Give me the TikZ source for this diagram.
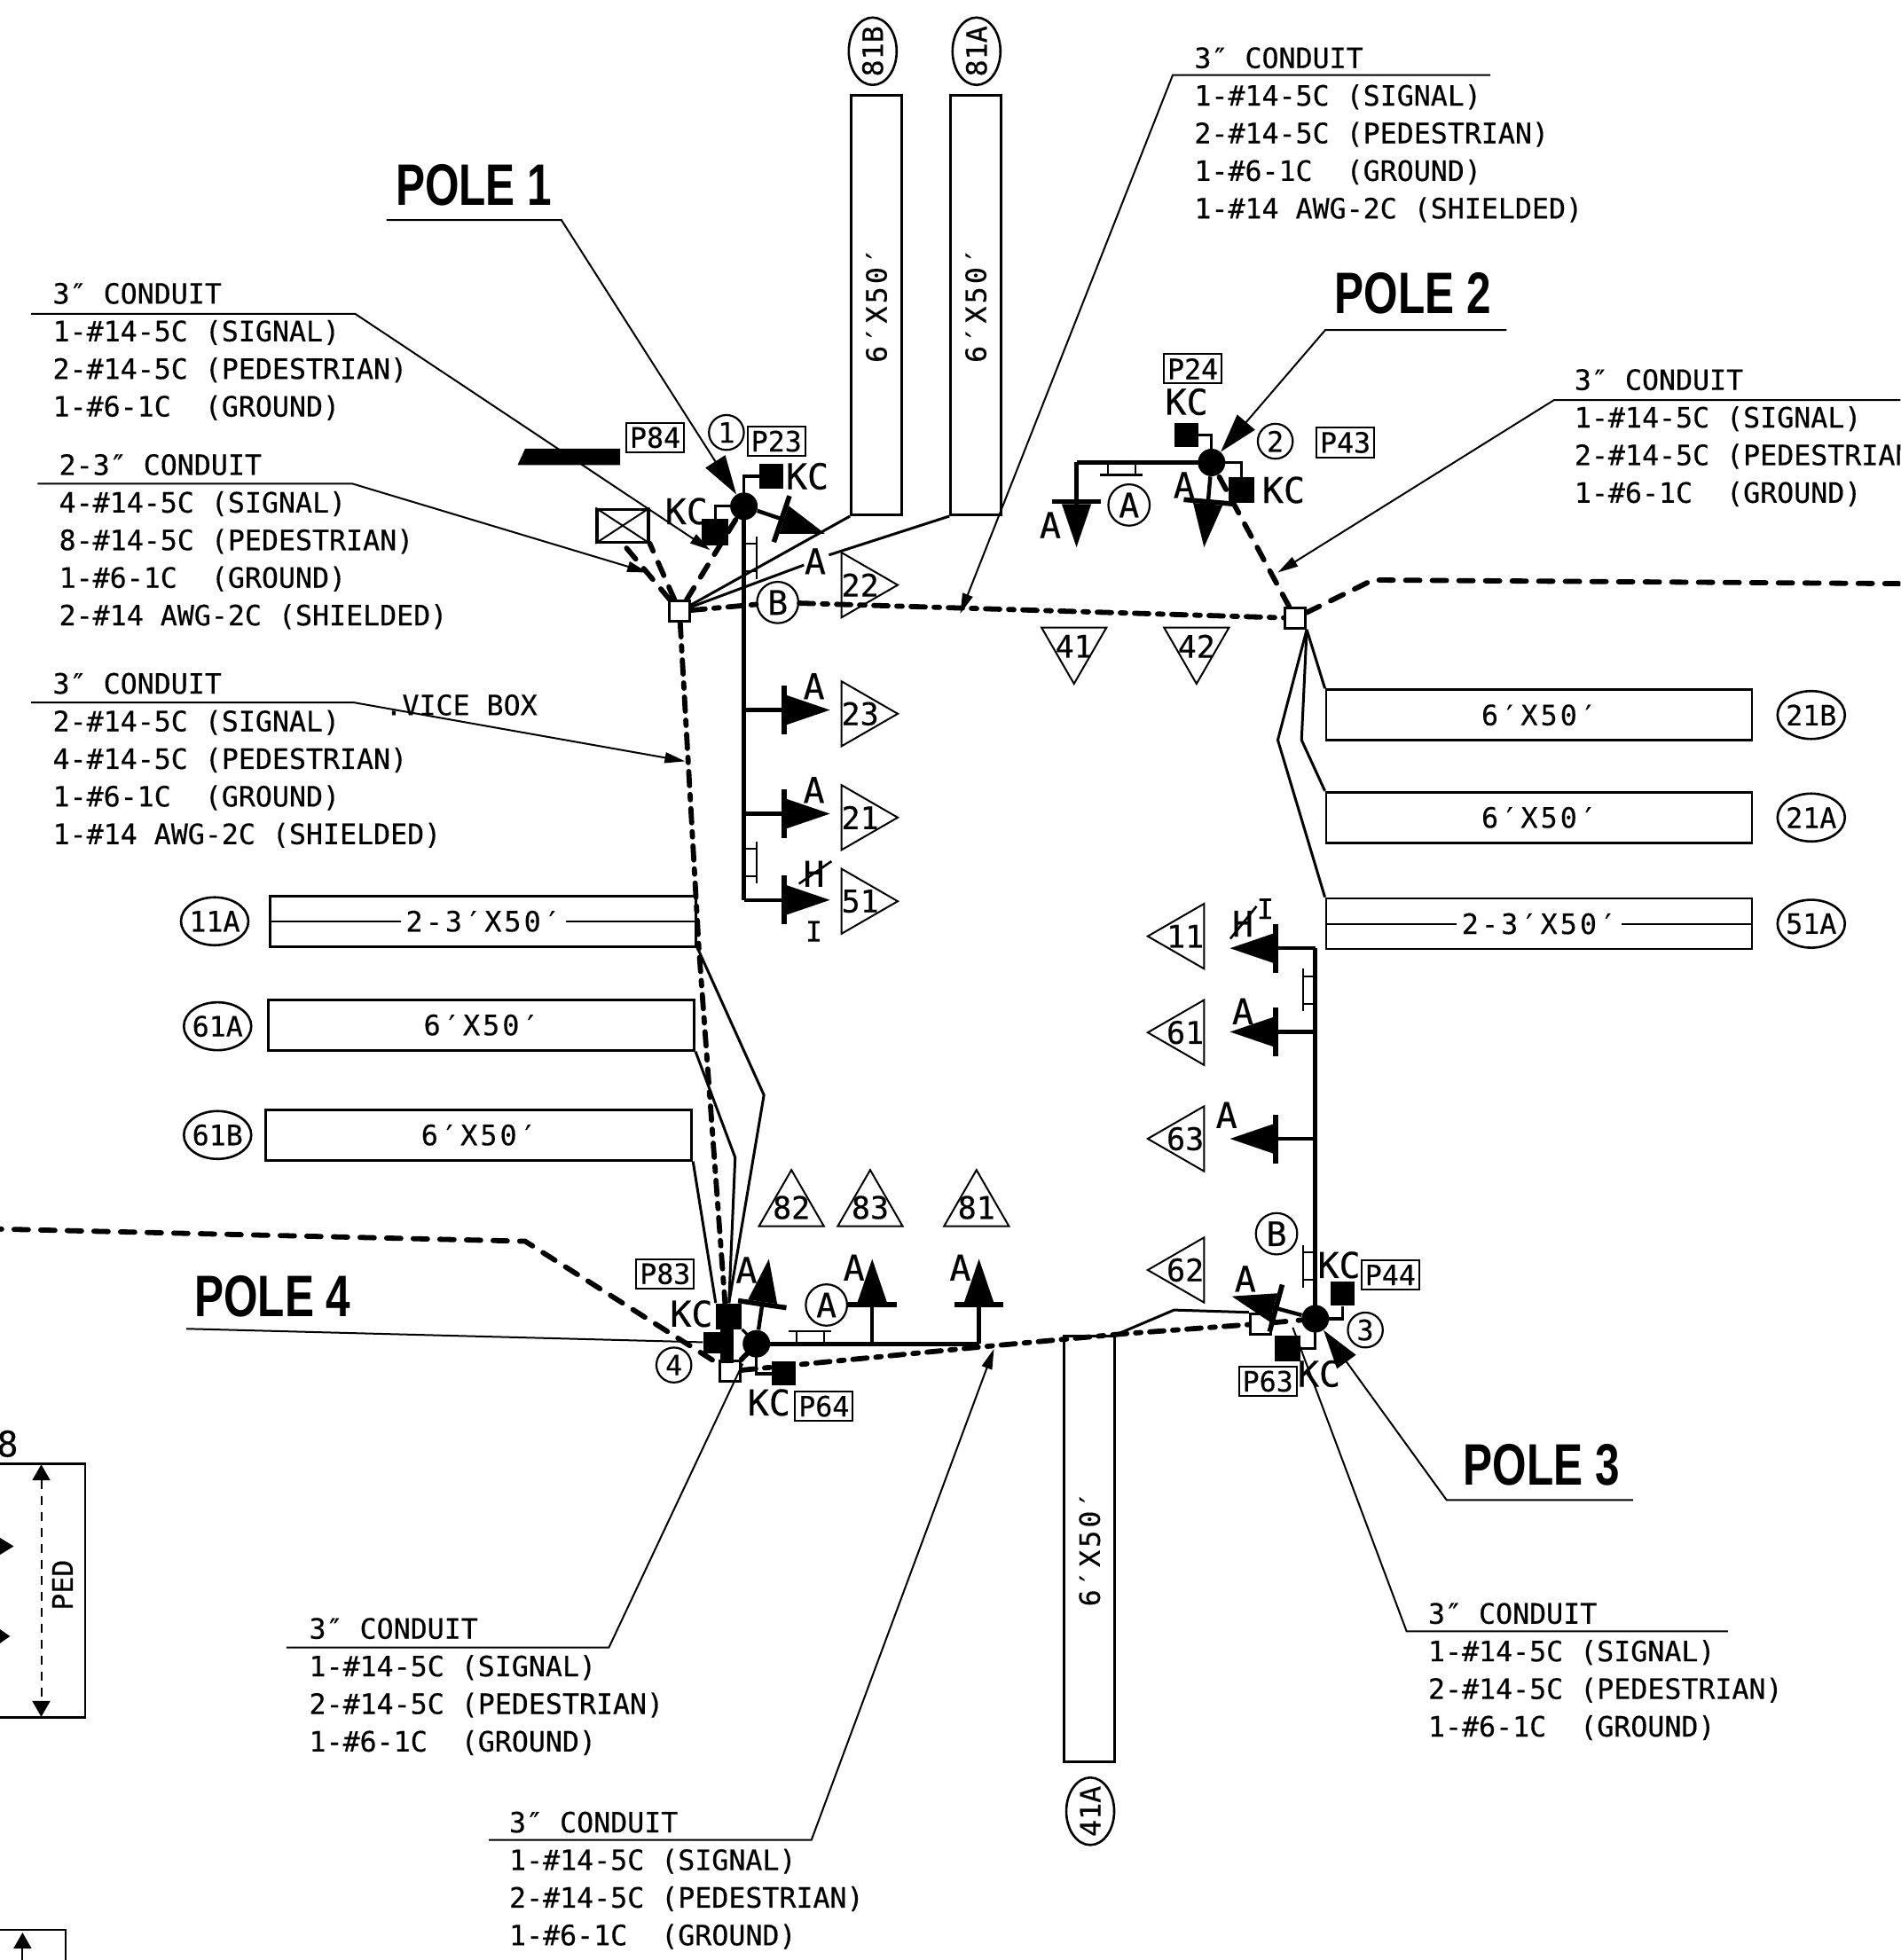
\documentclass[tikz,border=0pt]{standalone}
\usepackage{fontspec}
\setmainfont[FakeBold=0.35]{DejaVu Sans Mono}
\newfontfamily\polefont{Liberation Sans}
\newfontfamily\spacedfont[LetterSpace=10,FakeBold=0.35]{DejaVu Sans Mono}
\usetikzlibrary{positioning, arrows.meta, shapes.geometric}

\begin{document}
\begin{tikzpicture}[
						x=0.7046pt, y=-0.7046pt,
						plain/.style={font=\fontsize{15.8}{21.2}\selectfont, inner sep=0pt},
						lettertext/.style={font=\fontsize{20}{20}\selectfont, inner sep=0pt},
						calltext/.style={plain, align=left, anchor=north west},
						poletitle/.style={font=\polefont\bfseries\fontsize{33}{33}\selectfont, inner sep=0pt, xscale=.75, transform shape},
						sigbox/.style={plain, rectangle, draw, line width=1.4pt, font=\spacedfont\fontsize{15.8}{21.2}\selectfont, minimum width=240pt, minimum height=28.5pt},
						tagbox/.style={plain, rectangle, draw, line width=1pt, minimum width=32.4pt, minimum height=16.6pt},
						tagoval/.style={plain, ellipse, draw, line width=1.3pt, inner sep=-1pt, minimum width=38pt, minimum height=27pt},
						tri/.style={font=\fontsize{17.5}{17.5}\selectfont, regular polygon, regular polygon sides=3, draw, line width=1pt, inner sep=-4pt, minimum size=42.3pt},
						refcircle/.style={plain, circle, draw, fill=white, line width=1.1pt, minimum size=19.7pt},
						lettercircle/.style={font=\fontsize{19}{19}\selectfont, inner sep=0pt, circle, draw, fill=white, line width=1.1pt, minimum size=23.3pt},
						poledot/.style={circle, fill=black, inner sep=0pt, minimum size=15.5pt},
						kcbox/.style={rectangle, fill=black, inner sep=0pt, minimum size=13.5pt},
						jbox/.style={rectangle, draw, fill=white, line width=1.4pt, inner sep=0pt, minimum size=11.5pt},
						mainline/.style={line width=2.6pt},
						feeder/.style={line width=1.6pt},
						cable/.style={line width=1.5pt},
						conduit/.style={line width=2.9pt, line cap=round, dash pattern=on 8pt off 5pt on 3pt off 5pt},
						buried/.style={line width=2.9pt, line cap=round, dash pattern=on 8pt off 7pt},
						sighead/.style={line width=2.2pt, -{Bar[width=27.5pt,line width=2.8pt]Triangle[length=24.5pt,width=16pt]}},
						leader/.style={line width=1pt, -{Triangle[length=11.5pt,width=6pt]}},
						bareleader/.style={line width=1pt},
						poleleader/.style={line width=1pt, -{Triangle[length=22pt,width=13pt]}},
						strike/.style={line width=1.3pt},
						jumper/.pic={\draw[line width=1.1pt] (0,-17) -- (0,17) (0,-11) -- (-10,-11) (0,11) -- (-10,11);}
					]
					\useasboundingbox (0,0) rectangle (1520,1568);
					\clip (0,0) rectangle (1520,1568);
					\node[sigbox, rotate=90, minimum width=236.7pt] (boxeightyb) at (701,244) {6′X50′};
					\node[sigbox, rotate=90, minimum width=236.7pt] (boxeightya) at (780.5,244) {6′X50′};
					\node[sigbox] (boxtwob) at (1231,572) {6′X50′};
					\node[sigbox] (boxtwoa) at (1231,654) {6′X50′};
					\node[sigbox] (boxfive) at (1231,739) {};
					\node[sigbox] (boxeleven) at (386.5,737) {};
					\node[sigbox] (boxsixa) at (385,820) {6′X50′};
					\node[sigbox] (boxsixb) at (383,908) {6′X50′};
					\node[sigbox, rotate=90] (boxforty) at (871.5,1239) {6′X50′};
					\draw[line width=1pt] (boxfive.west) -- (boxfive.east);
					\draw[line width=1pt] (boxeleven.west) -- (boxeleven.east);
					\node[plain, fill=white, inner xsep=3pt, font=\spacedfont\fontsize{15.8}{21.2}\selectfont] (textfive) at (boxfive) {2-3′X50′};
					\node[plain, fill=white, inner xsep=3pt, font=\spacedfont\fontsize{15.8}{21.2}\selectfont] (texteleven) at (boxeleven) {2-3′X50′};

					\node[tagoval, rotate=90] (ovaleightyb) at (698,41) {81B};
					\node[tagoval, rotate=90] (ovaleightya) at (781,41) {81A};
					\node[tagoval] (ovaltwob) [right=13pt of boxtwob] {21B};
					\node[tagoval] (ovaltwoa) [right=13pt of boxtwoa] {21A};
					\node[tagoval] (ovalfive) [right=13pt of boxfive] {51A};
					\node[tagoval] (ovaleleven) [left=11pt of boxeleven] {11A};
					\node[tagoval] (ovalsixa) at (174,821) {61A};
					\node[tagoval] (ovalsixb) at (174,908) {61B};
					\node[tagoval, rotate=90] (ovalforty) at (872,1449) {41A};

					\node[tri, shape border rotate=-90] (tritwotwo) at (688,468) {22};
					\node[tri, shape border rotate=-90] (tritwothree) at (688,571) {23};
					\node[tri, shape border rotate=-90] (tritwoone) at (688,654) {21};
					\node[tri, shape border rotate=-90] (trifiveone) at (688,721) {51};
					\node[tri, shape border rotate=180] (trifourone) at (859,517) {41};
					\node[tri, shape border rotate=180] (trifourtwo) at (957,517) {42};
					\node[tri, shape border rotate=90] (trioneone) at (948,749) {11};
					\node[tri, shape border rotate=90] (trisixone) at (948,826) {61};
					\node[tri, shape border rotate=90] (trisixthree) at (948,911) {63};
					\node[tri, shape border rotate=90] (trisixtwo) at (948,1016) {62};
					\node[tri] (trieighttwo) at (633,966) {82};
					\node[tri] (trieightthree) at (696,966) {83};
					\node[tri] (trieightone) at (781,966) {81};

					\node[calltext] (condnorth) at (955,37.5) {3″ CONDUIT\\1-\#14-5C (SIGNAL)\\2-\#14-5C (PEDESTRIAN)\\1-\#6-1C\ \ (GROUND)\\1-\#14 AWG-2C (SHIELDED)};
					\node[calltext] (condpole) at (42,226) {3″ CONDUIT\\1-\#14-5C (SIGNAL)\\2-\#14-5C (PEDESTRIAN)\\1-\#6-1C\ \ (GROUND)};
					\node[calltext] (condtwin) at (47,363) {2-3″ CONDUIT\\4-\#14-5C (SIGNAL)\\8-\#14-5C (PEDESTRIAN)\\1-\#6-1C\ \ (GROUND)\\2-\#14 AWG-2C (SHIELDED)};
					\node[calltext] (condservice) at (42,538) {3″ CONDUIT\\2-\#14-5C (SIGNAL)\\4-\#14-5C (PEDESTRIAN)\\1-\#6-1C\ \ (GROUND)\\1-\#14 AWG-2C (SHIELDED)};
					\node[calltext] (condeast) at (1259,295) {3″ CONDUIT\\1-\#14-5C (SIGNAL)\\2-\#14-5C (PEDESTRIAN)\\1-\#6-1C\ \ (GROUND)};
					\node[calltext] (condwest) at (247,1294) {3″ CONDUIT\\1-\#14-5C (SIGNAL)\\2-\#14-5C (PEDESTRIAN)\\1-\#6-1C\ \ (GROUND)};
					\node[calltext] (condsouth) at (407,1449) {3″ CONDUIT\\1-\#14-5C (SIGNAL)\\2-\#14-5C (PEDESTRIAN)\\1-\#6-1C\ \ (GROUND)};
					\node[calltext] (condlower) at (1142,1282) {3″ CONDUIT\\1-\#14-5C (SIGNAL)\\2-\#14-5C (PEDESTRIAN)\\1-\#6-1C\ \ (GROUND)};
					\node[plain] (servicetext) at (369,564) {.VICE BOX};

					\node[poletitle] (titleone) at (379,148) {POLE 1};
					\node[poletitle] (titletwo) at (1130,235) {POLE 2};
					\node[poletitle] (titlethree) at (1233,1172) {POLE 3};
					\node[poletitle] (titlefour) at (218,1037) {POLE 4};

					\node[poledot] (poleone) at (595,405) {};
					\node[poledot] (poletwo) at (969,370) {};
					\node[poledot] (polethree) at (1052,1055) {};
					\node[poledot] (polefour) at (605,1075) {};
					\node[jbox] (jbone) at (543.5,489) {};
					\node[jbox] (jbtwo) at (1036,494.5) {};
					\node[jbox] (jbthree) at (1008,1059) {};
					\node[jbox] (jbfour) at (584,1097) {};
					\node[rectangle, draw, line width=1.6pt, minimum width=29pt, minimum height=18.5pt, inner sep=0pt] (crossbox) at (498,420.5) {};
					\draw[line width=1pt] (crossbox.north west) -- (crossbox.south east);
					\draw[line width=1pt] (crossbox.south west) -- (crossbox.north east);
					\fill (414,372) -- (420,359) -- (496,359) -- (496,372) -- cycle;

					\node[kcbox] (kcpa) at (617,381) {};
					\node[kcbox, minimum size=15pt] (kcpb) at (572,426) {};
					\node[kcbox] (kcpc) at (949,348) {};
					\node[kcbox, minimum size=14.5pt] (kcpd) at (993,392) {};
					\node[kcbox] (kcpe) at (1074,1035) {};
					\node[kcbox, minimum size=14.5pt] (kcpf) at (1030,1079) {};
					\node[kcbox] (kcpg) at (627,1099) {};
					\node[kcbox, minimum size=14.5pt] (kcph) at (583,1053) {};
					\node[kcbox, minimum size=12pt] (kcblock) at (571,1074) {};
					\node[kcbox, minimum width=7.7pt, minimum height=32pt] (kcstem) at (581.5,1068) {};

					\node[lettertext] (kctexta) [right=1pt of kcpa] {KC};
					\node[lettertext] (kctextb) at (549,409) {KC};
					\node[lettertext] (kctextc) [above=4pt of kcpc] {KC};
					\node[lettertext] (kctextd) [right=4pt of kcpd] {KC};
					\node[lettertext] (kctexte) at (1071,1012) {KC};
					\node[lettertext] (kctextf) at (1055,1099) {KC};
					\node[lettertext] (kctextg) at (615,1122) {KC};
					\node[lettertext] (kctexth) at (553,1051) {KC};

					\node[tagbox] (tagpeightfour) at (524,350) {P84};
					\node[tagbox] (tagptwothree) at (621,353) {P23};
					\node[tagbox] (tagptwofour) at (954,295) {P24};
					\node[tagbox] (tagpfourthree) at (1076,354) {P43};
					\node[tagbox] (tagpeightthree) at (532,1019) {P83};
					\node[tagbox] (tagpsixfour) at (659,1125) {P64};
					\node[tagbox] (tagpsixthree) at (1014,1105) {P63};
					\node[tagbox] (tagpfourfour) at (1112,1020) {P44};

					\node[refcircle] (numone) at (581,346) {1};
					\node[refcircle] (numtwo) at (1020,353) {2};
					\node[refcircle] (numthree) at (1092,1064) {3};
					\node[refcircle] (numfour) at (539,1092) {4};
					\node[lettercircle] (circleb) at (622,482) {B};
					\node[lettercircle] (circlea) at (903,404) {A};
					\node[lettercircle] (circlec) at (661,1044) {A};
					\node[lettercircle] (circled) at (1021,987) {B};

					\node[lettertext] (letterone) at (652,449) {A};
					\node[lettertext] (lettertwo) at (651,549) {A};
					\node[lettertext] (letterthree) at (651,632) {A};
					\node[lettertext] (hatchone) at (651,699) {H};
					\node[plain] (letteri) at (651,745) {I};
					\node[lettertext] (letterfour) at (840,420) {A};
					\node[lettertext] (letterfive) at (947,388) {A};
					\node[lettertext] (hatchtwo) at (994,739) {H};
					\node[plain] (letterj) at (1012,727) {I};
					\node[lettertext] (lettersix) at (994,809) {A};
					\node[lettertext] (letterseven) at (981,892) {A};
					\node[lettertext] (lettereight) at (996,1023) {A};
					\node[lettertext] (letternine) at (597,1016) {A};
					\node[lettertext] (letterten) at (683,1014) {A};
					\node[lettertext] (lettereleven) at (768,1014) {A};
					\draw[strike] ([shift={(-12,8)}]hatchone.center) -- ([shift={(14,-10)}]hatchone.center);
					\draw[strike] ([shift={(-10,12)}]hatchtwo.center) -- ([shift={(11,-14)}]hatchtwo.center);

					\coordinate (gapnear) at (663,444);
					\coordinate (gapfar) at (643,452);
					\draw[cable] (boxeightyb.north west) -- (jbone);
					\draw[cable] (boxeightya.north west) -- (gapnear);
					\draw[cable] (gapfar) -- (jbone);
					\coordinate (bendtwoa) at (1041,592);
					\coordinate (bendfive) at (1022,592);
					\draw[cable] (jbtwo.south east) -- (boxtwob.north west);
					\draw[cable] (jbtwo.south east) -- (bendtwoa) -- (boxtwoa.north west);
					\draw[cable] (jbtwo.south east) -- (bendfive) -- (boxfive.north west);
					\coordinate (bendeleven) at (611,876);
					\coordinate (bendsixa) at (588,926);
					\draw[cable] (boxeleven.south east) -- (bendeleven) -- (kcph.north);
					\draw[cable] (boxsixa.south east) -- (bendsixa) -- (kcph.north);
					\draw[cable] (boxsixb.south east) -- (kcph.north west);
					\coordinate (bendforty) at (939,1048);
					\draw[cable] (boxforty.south east) -- (bendforty) -- (jbthree.north west);

					\coordinate (bendserviceup) at (559,759);
					\coordinate (bendservicelow) at (578,1017);
					\coordinate (bendsouth) at (790,1077);
					\coordinate (bendsoutheast) at (899,1067);
					\coordinate (eastbend) at (1098,464);
					\coordinate (eastend) at (1530,467);
					\coordinate (westbend) at (420,993);
					\coordinate (westend) at (-10,983);
					\draw[conduit] (jbone) -- (circleb);
					\draw[conduit] (circleb) -- (jbtwo);
					\draw[conduit] (jbone) -- (bendserviceup) -- (bendservicelow) -- (jbfour);
					\draw[conduit] (jbfour) -- (bendsouth) -- (bendsoutheast) -- (jbthree);
					\draw[buried] (jbone) -- (poleone);
					\draw[buried] (jbtwo) -- (poletwo);
					\draw[buried] (jbthree) -- (polethree);
					\draw[buried] (jbfour) -- (polefour);
					\draw[buried] (jbone) -- (crossbox.south);
					\draw[buried] (jbone) -- (crossbox.south east);
					\draw[buried] (jbtwo) -- (eastbend) -- (eastend);
					\draw[buried] (westend) -- (westbend) -- (jbfour);

					\coordinate (cornerone) at (595,720);
					\coordinate (branchtwothree) at (595,568);
					\coordinate (branchtwoone) at (595,651);
					\coordinate (tiptwotwo) at (660,427);
					\coordinate (tiptwothree) at (664,568);
					\coordinate (tiptwoone) at (664,651);
					\coordinate (tipfiveone) at (664,720);
					\draw[mainline] (poleone.center) -- (cornerone);
					\draw[sighead] (poleone) -- (tiptwotwo);
					\draw[sighead] (branchtwothree) -- (tiptwothree);
					\draw[sighead] (branchtwoone) -- (tiptwoone);
					\draw[sighead] (cornerone) -- (tipfiveone);
					\pic at (605,446) {jumper};
					\pic at (605,690) {jumper};

					\coordinate (cornertwo) at (861,370);
					\coordinate (tipfourone) at (861,438);
					\coordinate (tipfourtwo) at (963,438);
					\draw[mainline] (poletwo.center) -- (cornertwo);
					\draw[sighead] (cornertwo) -- (tipfourone);
					\draw[sighead] (poletwo) -- (tipfourtwo);
					\pic[rotate=-90] at (897,380) {jumper};

					\coordinate (cornerthree) at (1052,758.6);
					\coordinate (branchsixone) at (1052,825.5);
					\coordinate (branchsixthree) at (1052,911);
					\coordinate (tiponeone) at (983.6,758.6);
					\coordinate (tipsixone) at (983.6,825.5);
					\coordinate (tipsixthree) at (983.6,911);
					\coordinate (tipsixtwo) at (985,1037);
					\draw[mainline] (polethree.center) -- (cornerthree);
					\draw[sighead] (cornerthree) -- (tiponeone);
					\draw[sighead] (branchsixone) -- (tipsixone);
					\draw[sighead] (branchsixthree) -- (tipsixthree);
					\draw[sighead] (polethree) -- (tipsixtwo);
					\pic[rotate=180] at (1042,792) {jumper};
					\pic[rotate=180] at (1042,1013) {jumper};

					\coordinate (cornerfour) at (783,1075);
					\coordinate (brancheightthree) at (697.6,1075);
					\coordinate (tipeighttwo) at (615,1007);
					\coordinate (tipeightthree) at (697.6,1007);
					\coordinate (tipeightone) at (783,1007);
					\draw[mainline] (polefour.center) -- (cornerfour);
					\draw[sighead] (polefour) -- (tipeighttwo);
					\draw[sighead] (brancheightthree) -- (tipeightthree);
					\draw[sighead] (cornerfour) -- (tipeightone);
					\pic[rotate=90] at (648,1065) {jumper};

					\draw[feeder] (poleone.center) |- (kcpa.west);
					\draw[feeder] (poleone.center) -| (kcpb.north);
					\draw[feeder] (poletwo.center) |- (kcpc.east);
					\draw[feeder] (poletwo.center) -| (kcpd.north);
					\draw[feeder] (polethree.center) -| (kcpe.south);
					\draw[feeder] (polethree.center) |- (kcpf.east);
					\draw[feeder] (polefour.center) |- (kcpg.west);
					\draw[feeder] (polefour.center) -- (kcph.south east);

					\coordinate (ruleoneleft) at (309,176);
					\coordinate (ruleoneright) at (449,176);
					\coordinate (ruletworight) at (1205,264);
					\coordinate (ruletwoleft) at (1060,264);
					\coordinate (rulethreeright) at (1306,1200);
					\coordinate (rulethreeleft) at (1157,1200);
					\coordinate (rulefourleft) at (149,1063);
					\draw[poleleader] (ruleoneleft) -- (ruleoneright) -- (poleone);
					\draw[poleleader] (ruletworight) -- (ruletwoleft) -- (poletwo);
					\draw[poleleader] (rulethreeright) -- (rulethreeleft) -- (polethree);
					\draw[bareleader] (rulefourleft) -- (kcblock);

					\coordinate (rulenorthright) at (1192,60);
					\coordinate (rulenorthleft) at (938,60);
					\coordinate (tipnorth) at (768,491);
					\coordinate (rulepoleleft) at (25,251);
					\coordinate (rulepoleright) at (284,251);
					\coordinate (tippole) at (568,440);
					\coordinate (ruletwinleft) at (30,387);
					\coordinate (ruletwinright) at (282,387);
					\coordinate (tiptwin) at (518,458);
					\coordinate (ruleserviceleft) at (25,562);
					\coordinate (ruleserviceright) at (283,562);
					\coordinate (tipservice) at (548,609);
					\coordinate (ruleeastright) at (1530,320);
					\coordinate (ruleeastleft) at (1243,320);
					\coordinate (tipeast) at (1022,458);
					\coordinate (rulesouthleft) at (391,1472);
					\coordinate (rulesouthright) at (649,1472);
					\coordinate (tipsouth) at (795,1079);
					\coordinate (rulewestleft) at (229,1318);
					\coordinate (rulewestright) at (487,1318);
					\coordinate (endwest) at (594,1091);
					\coordinate (rulelowerright) at (1382,1305);
					\coordinate (rulelowerleft) at (1125,1305);
					\coordinate (endlower) at (1034,1062);
					\draw[leader] (rulenorthright) -- (rulenorthleft) -- (tipnorth);
					\draw[leader] (rulepoleleft) -- (rulepoleright) -- (tippole);
					\draw[leader] (ruletwinleft) -- (ruletwinright) -- (tiptwin);
					\draw[leader] (ruleserviceleft) -- (ruleserviceright) -- (tipservice);
					\draw[leader] (ruleeastright) -- (ruleeastleft) -- (tipeast);
					\draw[leader] (rulesouthleft) -- (rulesouthright) -- (tipsouth);
					\draw[bareleader] (rulewestleft) -- (rulewestright) -- (endwest);
					\draw[bareleader] (rulelowerright) -- (rulelowerleft) -- (endlower);

					\node[rectangle, draw, line width=1.1pt, minimum width=55pt, minimum height=143pt, inner sep=0pt] (pedpanel) at (29,1272.5) {};
					\node[rectangle, draw, line width=1.1pt, minimum width=44pt, minimum height=40pt, inner sep=0pt] (lowerpanel) at (21.5,1572) {};
					\node[plain, rotate=90] (pedtext) at (50,1268) {PED};
					\node[lettertext] (sheetdigit) at (6,1155) {8};
					\coordinate (pedtop) at (33,1171.5);
					\coordinate (pedbottom) at (33,1373.5);
					\coordinate (lowertop) at (18,1546);
					\coordinate (lowerend) at (18,1575);
					\draw[line width=1pt, dashed, dash pattern=on 5pt off 4pt, {Triangle[length=9pt,width=10pt]}-{Triangle[length=9pt,width=10pt]}] (pedtop) -- (pedbottom);
					\draw[line width=1pt, {Triangle[length=9pt,width=10pt]}-] (lowertop) -- (lowerend);
					\fill (-2,1229) -- (11,1237) -- (-2,1245) -- cycle;
					\fill (-2,1302) -- (8,1309) -- (-2,1316) -- cycle;
					\end{tikzpicture}
\end{document}
